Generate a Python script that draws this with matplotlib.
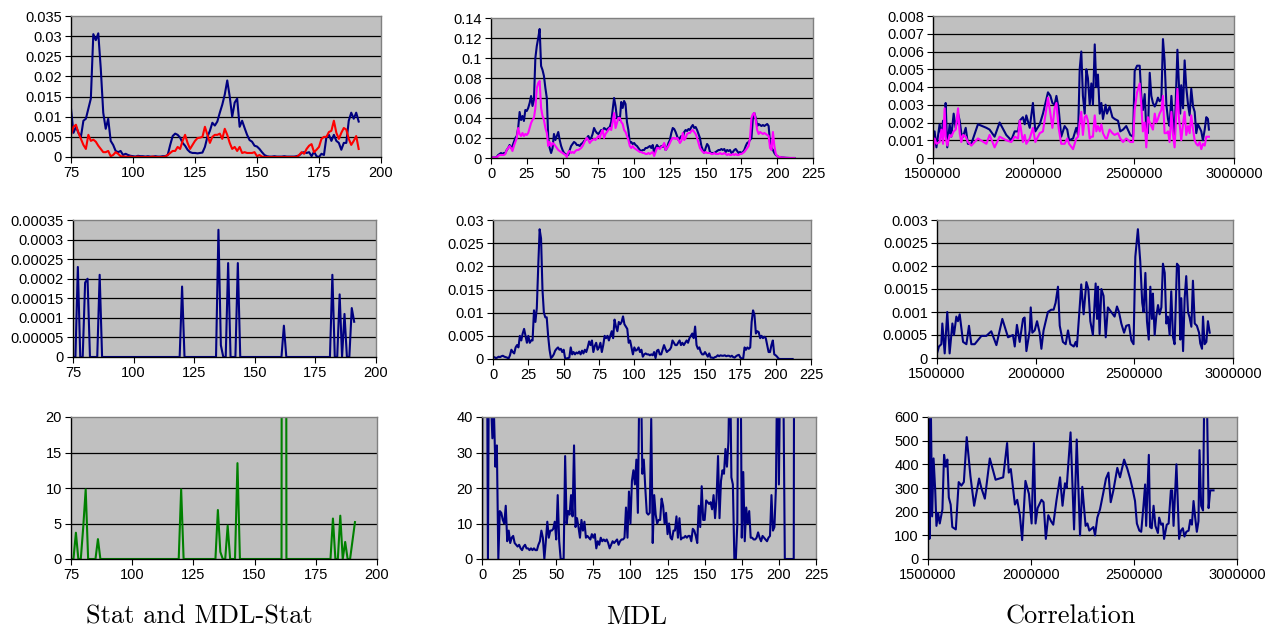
import numpy as np
import matplotlib.pyplot as plt
from matplotlib.ticker import FuncFormatter

# ---------------- data ----------------
# column 1: Stat / MDL-Stat, x = 75..191
stat_start = 75
stat_mdl = [
    0.012, 0.006, 0.0075, 0.006, 0.005, 0.009, 0.0095, 0.012, 0.0145, 0.0305,   # 75
    0.029, 0.0307, 0.022, 0.011, 0.007, 0.0095, 0.004, 0.003, 0.0015, 0.0012,   # 85
    0.0015, 0.0005, 0.0008, 0.0005, 0.0003, 0.0002, 0.0001, 0.0003, 0.0002, 0.0002,  # 95
    0.0001, 0.0002, 0.0001, 0.0001, 0.0002, 0.0001, 0.0001, 0.0002, 0.0002, 0.0005,  # 105
    0.003, 0.0052, 0.0058, 0.0055, 0.0048, 0.0035, 0.0028, 0.0018, 0.0012, 0.001,   # 115
    0.001, 0.0009, 0.001, 0.0011, 0.0025, 0.005, 0.0065, 0.0085, 0.0078, 0.0088,    # 125
    0.011, 0.013, 0.0155, 0.019, 0.015, 0.01, 0.0135, 0.0145, 0.0075, 0.009,        # 135
    0.0072, 0.0055, 0.0042, 0.0038, 0.0028, 0.0026, 0.002, 0.0012, 0.0005, 0.0002,  # 145
    0.0001, 0.0001, 0.0002, 0.0001, 0.0001, 0.0001, 0.0002, 0.0001, 0.0001, 0.0001,  # 155
    0.0001, 0.0002, 0.0004, 0.001, 0.0012, 0.001, 0.0012, 0.0002, 0.0013, 0.0002,   # 165
    0.0, 0.0008, 0.0005, 0.005, 0.0055, 0.004, 0.0055, 0.004, 0.0035, 0.0018,       # 175
    0.0035, 0.0035, 0.009, 0.011, 0.0095, 0.011, 0.0088,                           # 185
]
stat_red = [
    0.0055, 0.0075, 0.008, 0.006, 0.0045, 0.003, 0.002, 0.0055, 0.004, 0.0043,
    0.0038, 0.0028, 0.002, 0.0012, 0.0012, 0.0015, 0.0002, 0.0005, 0.0012, 0.0008,
    0.0002, 0.0001, 0.0001, 0.0, 0.0001, 0.0, 0.0, 0.0001, 0.0, 0.0,
    0.0, 0.0, 0.0, 0.0001, 0.0, 0.0, 0.0, 0.0, 0.0001, 0.0005,
    0.001, 0.0015, 0.0015, 0.0025, 0.002, 0.004, 0.0055, 0.0035, 0.002, 0.003,
    0.004, 0.0047, 0.0048, 0.005, 0.0075, 0.0055, 0.0035, 0.005, 0.0055, 0.0055,
    0.0058, 0.0045, 0.007, 0.0055, 0.0035, 0.002, 0.0025, 0.0015, 0.0025, 0.001,
    0.0012, 0.001, 0.001, 0.001, 0.0012, 0.0002, 0.0005, 0.0001, 0.0, 0.0,
    0.0, 0.0, 0.0, 0.0, 0.0, 0.0, 0.0, 0.0, 0.0, 0.0,
    0.0, 0.0, 0.0005, 0.0012, 0.0008, 0.002, 0.0028, 0.0032, 0.0012, 0.0018,
    0.0025, 0.0045, 0.005, 0.005, 0.0062, 0.0065, 0.009, 0.006, 0.0045, 0.006,
    0.0072, 0.0068, 0.0045, 0.003, 0.004, 0.0052, 0.002,
]
stat_mid = [
    0, 0, 0.00023, 0, 0, 0.00019, 0.0002, 0, 0, 0,
    0, 0.00021, 0, 0, 0, 0, 0, 0, 0, 0,
    0, 0, 0, 0, 0, 0, 0, 0, 0, 0,
    0, 0, 0, 0, 0, 0, 0, 0, 0, 0,
    0, 0, 0, 0, 0, 0.00018, 0, 0, 0, 0,
    0, 0, 0, 0, 0, 0, 0, 0, 0, 0,
    0.000325, 0.00003, 0, 0, 0.00024, 0, 0, 0, 0.00024, 0,
    0, 0, 0, 0, 0, 0, 0, 0, 0, 0,
    0, 0, 0, 0, 0, 0, 0, 0.00008, 0, 0,
    0, 0, 0, 0, 0, 0, 0, 0, 0, 0,
    0, 0, 0, 0, 0, 0, 0, 0.00021, 0, 0,
    0.00016, 0, 0.00011, 0, 0, 0.000125, 0.00009,
]
stat_low = [
    0, 0, 3.7, 0, 0, 4.5, 9.8, 0, 0, 0,
    0, 2.8, 0, 0, 0, 0, 0, 0, 0, 0,
    0, 0, 0, 0, 0, 0, 0, 0, 0, 0,
    0, 0, 0, 0, 0, 0, 0, 0, 0, 0,
    0, 0, 0, 0, 0, 9.8, 0, 0, 0, 0,
    0, 0, 0, 0, 0, 0, 0, 0, 0, 0,
    6.9, 1.0, 0, 0, 4.7, 0, 0, 0, 13.5, 0,
    0, 0, 0, 0, 0, 0, 0, 0, 0, 0,
    0, 0, 0, 0, 0, 0, 0, 400, 0, 0,
    0, 0, 0, 0, 0, 0, 0, 0, 0, 0,
    0, 0, 0, 0, 0, 0, 0, 5.7, 0, 0,
    6.1, 0, 2.4, 0, 0, 2.6, 5.2,
]

# column 2: MDL, x = 0..212
mdl_top = [
    0.0005, 0.0005, 0.0005, 0.0005, 0.001, 0.003, 0.004, 0.005, 0.004, 0.005,   # 0
    0.005, 0.008, 0.010, 0.013, 0.010, 0.012, 0.016, 0.020, 0.022, 0.030,       # 10
    0.046, 0.038, 0.042, 0.037, 0.048, 0.047, 0.050, 0.055, 0.062, 0.052,       # 20
    0.058, 0.100, 0.112, 0.120, 0.129, 0.092, 0.088, 0.082, 0.070, 0.060,       # 30
    0.020, 0.010, 0.005, 0.010, 0.024, 0.018, 0.022, 0.026, 0.018, 0.012,       # 40
    0.008, 0.005, 0.004, 0.003, 0.003, 0.008, 0.012, 0.014, 0.016, 0.015,       # 50
    0.013, 0.013, 0.012, 0.014, 0.015, 0.017, 0.018, 0.020, 0.022, 0.019,       # 60
    0.020, 0.024, 0.030, 0.027, 0.025, 0.024, 0.026, 0.028, 0.027, 0.030,       # 70
    0.029, 0.028, 0.030, 0.031, 0.036, 0.048, 0.060, 0.052, 0.040, 0.041,       # 80
    0.038, 0.056, 0.050, 0.057, 0.054, 0.036, 0.028, 0.015, 0.016, 0.014,       # 90
    0.015, 0.013, 0.012, 0.010, 0.008, 0.007, 0.008, 0.008, 0.010, 0.010,       # 100
    0.011, 0.012, 0.010, 0.013, 0.005, 0.010, 0.013, 0.011, 0.010, 0.012,       # 110
    0.011, 0.014, 0.008, 0.010, 0.015, 0.018, 0.025, 0.030, 0.029, 0.026,       # 120
    0.022, 0.018, 0.020, 0.022, 0.020, 0.026, 0.028, 0.027, 0.029, 0.028,       # 130
    0.031, 0.033, 0.030, 0.031, 0.028, 0.024, 0.020, 0.012, 0.008, 0.005,       # 140
    0.010, 0.014, 0.012, 0.006, 0.005, 0.005, 0.005, 0.006, 0.007, 0.008,       # 150
    0.008, 0.009, 0.008, 0.009, 0.006, 0.008, 0.007, 0.008, 0.005, 0.006,       # 160
    0.008, 0.009, 0.007, 0.005, 0.006, 0.005, 0.006, 0.008, 0.012, 0.015,       # 170
    0.016, 0.018, 0.020, 0.040, 0.045, 0.040, 0.032, 0.034, 0.033, 0.032,       # 180
    0.033, 0.032, 0.033, 0.034, 0.032, 0.015, 0.010, 0.008, 0.005, 0.003,       # 190
    0.002, 0.001, 0.001, 0.0005, 0.0005, 0.0003, 0.0002, 0.0001, 0, 0,          # 200
    0, 0, 0,                                                                    # 210
]
mdl_top2 = [
    0.0005, 0.0005, 0.0005, 0.0005, 0.0005, 0.002, 0.003, 0.003, 0.003, 0.003,
    0.004, 0.008, 0.010, 0.012, 0.010, 0.007, 0.012, 0.016, 0.020, 0.030,
    0.024, 0.022, 0.025, 0.022, 0.024, 0.023, 0.025, 0.030, 0.035, 0.038,
    0.040, 0.050, 0.070, 0.075, 0.077, 0.050, 0.042, 0.038, 0.030, 0.025,
    0.012, 0.016, 0.012, 0.015, 0.014, 0.012, 0.010, 0.008, 0.007, 0.006,
    0.005, 0.004, 0.003, 0.001, 0.006, 0.007, 0.005, 0.006, 0.005, 0.007,
    0.008, 0.008, 0.009, 0.010, 0.012, 0.015, 0.018, 0.020, 0.018, 0.015,
    0.017, 0.018, 0.019, 0.018, 0.020, 0.022, 0.020, 0.025, 0.028, 0.020,
    0.024, 0.026, 0.028, 0.030, 0.028, 0.036, 0.045, 0.030, 0.035, 0.040,
    0.040, 0.036, 0.034, 0.028, 0.026, 0.022, 0.018, 0.012, 0.010, 0.012,
    0.010, 0.009, 0.008, 0.007, 0.006, 0.006, 0.005, 0.005, 0.004, 0.004,
    0.005, 0.004, 0.005, 0.006, 0.002, 0.006, 0.010, 0.010, 0.009, 0.011,
    0.012, 0.015, 0.008, 0.010, 0.012, 0.015, 0.018, 0.020, 0.020, 0.019,
    0.020, 0.018, 0.015, 0.017, 0.025, 0.018, 0.020, 0.024, 0.025, 0.025,
    0.027, 0.028, 0.026, 0.024, 0.020, 0.015, 0.010, 0.008, 0.006, 0.005,
    0.006, 0.005, 0.005, 0.005, 0.004, 0.004, 0.005, 0.004, 0.004, 0.004,
    0.005, 0.004, 0.004, 0.005, 0.004, 0.003, 0.004, 0.003, 0.003, 0.004,
    0.003, 0.004, 0.003, 0.003, 0.004, 0.004, 0.005, 0.006, 0.008, 0.010,
    0.012, 0.020, 0.040, 0.044, 0.045, 0.038, 0.028, 0.024, 0.026, 0.025,
    0.024, 0.025, 0.024, 0.023, 0.022, 0.010, 0.008, 0.026, 0.012, 0.004,
    0.002, 0.001, 0.001, 0.0005, 0.0005, 0.0003, 0.0002, 0.0001, 0, 0,
    0, 0, 0,
]
mdl_mid = [
    0.0003, 0.0004, 0.0002, 0.0003, 0.0005, 0.0004, 0.0006, 0.0007, 0.0005, 0.0004,
    0.0003, 0.0001, 0.0008, 0.002, 0.0015, 0.0012, 0.0025, 0.003, 0.0025, 0.005,
    0.004, 0.0055, 0.0065, 0.005, 0.0035, 0.005, 0.0035, 0.004, 0.004, 0.0105,
    0.008, 0.011, 0.02, 0.028, 0.026, 0.015, 0.01, 0.009, 0.009, 0.005,
    0.002, 0.0002, 0.0005, 0.001, 0.0018, 0.0022, 0.0025, 0.002, 0.0022, 0.0015,
    0.002, 0.0002, 0.0001, 0.0002, 0.0003, 0.0025, 0.001, 0.0015, 0.001, 0.0014,
    0.0012, 0.0016, 0.001, 0.0018, 0.0012, 0.002, 0.0015, 0.0025, 0.0038, 0.003,
    0.004, 0.0015, 0.0028, 0.0035, 0.002, 0.0025, 0.0035, 0.0015, 0.003, 0.005,
    0.0045, 0.005, 0.004, 0.005, 0.006, 0.0045, 0.0085, 0.007, 0.006, 0.008,
    0.0075, 0.008, 0.0092, 0.0075, 0.007, 0.0065, 0.0035, 0.004, 0.0025, 0.001,
    0.0025, 0.0018, 0.002, 0.0025, 0.0015, 0.002, 0.0005, 0.001, 0.0012, 0.001,
    0.001, 0.0008, 0.001, 0.0008, 0.0015, 0.0002, 0.0018, 0.002, 0.001, 0.001,
    0.002, 0.003, 0.0022, 0.0015, 0.0018, 0.002, 0.0025, 0.004, 0.0035, 0.003,
    0.003, 0.0035, 0.004, 0.003, 0.0035, 0.003, 0.0035, 0.004, 0.0035, 0.0045,
    0.005, 0.0055, 0.0045, 0.007, 0.003, 0.0022, 0.0025, 0.0015, 0.001, 0.001,
    0.0015, 0.001, 0.0005, 0.0012, 0.0003, 0.0003, 0.0002, 0.0004, 0.0005, 0.0008,
    0.0006, 0.0008, 0.0007, 0.0007, 0.0008, 0.0006, 0.0007, 0.0007, 0.0005, 0.0007,
    0.0004, 0.0003, 0.0006, 0.0008, 0.0009, 0.0003, 0.0001, 0.0001, 0.0025, 0.002,
    0.0025, 0.0022, 0.0025, 0.008, 0.0105, 0.0095, 0.0055, 0.006, 0.0058, 0.0045,
    0.005, 0.0045, 0.0048, 0.0045, 0.003, 0.0015, 0.0015, 0.003, 0.004, 0.001,
    0.0008, 0.0005, 0.0001, 0, 0, 0, 0, 0, 0, 0,
    0, 0, 0,
]
mdl_low = [
    0, 200, 150, 100, 0, 90, 45, 34, 42, 26,
    32, 0, 13.5, 13, 11, 10, 15, 5, 8, 4.5,
    6, 6.5, 4.5, 4, 3.5, 4, 3, 2.5, 3.5, 4,
    3, 3, 2.5, 3, 2.5, 3, 2.5, 2.5, 4, 5,
    8, 6, 0, 5, 10.5, 6, 8, 8, 8.5, 10.5,
    5.5, 18, 5, 0, 0, 0, 29, 10, 13.5, 12.5,
    18, 12, 32, 9, 11.5, 9, 6, 11, 8, 10.5,
    6, 6.5, 6, 5.5, 7, 6, 7, 3, 5, 4,
    6, 5, 5.5, 5, 5.5, 4.5, 3, 4, 5, 4.5,
    5, 5.5, 4, 5, 5.5, 5.5, 6, 14.5, 6, 19,
    10, 22, 25, 21, 28, 13, 50, 55, 24, 28,
    20, 13, 12.5, 13, 39.5, 4.5, 18, 12.5, 10, 11,
    11, 17, 15, 10, 13, 7, 10, 6, 5.5, 8,
    8, 12, 6, 11.5, 5.5, 6, 6, 6.5, 6, 6.5,
    6.5, 5, 8.5, 8, 6.5, 4.5, 15, 9, 20.5, 11,
    11, 16.5, 16, 15.5, 16, 14, 18, 11.5, 17, 29,
    11.5, 22, 25, 24, 31, 26, 33, 60, 23, 21,
    0, 0, 10, 90, 70, 6, 24.5, 5, 14.5, 10,
    13.5, 6, 6, 5.5, 5.5, 6, 7.5, 6, 5, 6.5,
    6, 5.5, 5, 6, 6.5, 18, 8, 9, 20, 60,
    21, 60, 80, 50, 0, 0, 0, 0, 0, 0,
    0, 250, 200,
]

# column 3: Correlation, x in thousands
corr_top_x = [
    1500, 1508, 1517, 1533, 1542, 1550, 1558, 1563, 1571, 1583,
    1591, 1603, 1613, 1625, 1633, 1641, 1650, 1663, 1674, 1691,
    1724, 1766, 1782, 1807, 1832, 1865, 1890, 1907, 1924, 1932,
    1948, 1957, 1965, 1982, 1998, 2010, 2032, 2048, 2073, 2085,
    2095, 2106, 2115, 2126, 2139, 2156, 2169, 2178, 2198, 2214,
    2223, 2231, 2239, 2247, 2256, 2264, 2272, 2281, 2289, 2297,
    2306, 2314, 2322, 2331, 2339, 2347, 2360, 2367, 2380, 2394,
    2405, 2422, 2433, 2447, 2463, 2483, 2497, 2505, 2517, 2530,
    2538, 2546, 2555, 2563, 2571, 2580, 2588, 2596, 2605, 2613,
    2621, 2629, 2638, 2646, 2654, 2663, 2671, 2679, 2688, 2696,
    2704, 2718, 2726, 2732, 2737, 2746, 2754, 2762, 2771, 2779,
    2787, 2796, 2804, 2812, 2820, 2829, 2837, 2845, 2854, 2862,
    2870, 2875,
]
corr_top = [
    0.0010, 0.0015, 0.0006, 0.0019, 0.0012, 0.0021, 0.0015, 0.0031, 0.0006, 0.0019,
    0.0012, 0.0025, 0.0017, 0.0025, 0.0021, 0.0014, 0.0012, 0.0017, 0.0008, 0.0008,
    0.0019, 0.0017, 0.0016, 0.0012, 0.0020, 0.0013, 0.0010, 0.0015, 0.0015, 0.0021,
    0.0023, 0.0019, 0.0024, 0.0017, 0.0031, 0.0015, 0.0019, 0.0025, 0.0037, 0.0035,
    0.0031, 0.0030, 0.0035, 0.0028, 0.0012, 0.0018, 0.0016, 0.0010, 0.0011, 0.0017,
    0.0013, 0.0050, 0.0060, 0.0035, 0.0025, 0.0050, 0.0045, 0.0030, 0.0042, 0.0030,
    0.0064, 0.0040, 0.0047, 0.0025, 0.0031, 0.0022, 0.0030, 0.0025, 0.0029, 0.0023,
    0.0022, 0.0021, 0.0015, 0.0016, 0.0018, 0.0013, 0.0012, 0.0049, 0.0052, 0.0052,
    0.0035, 0.0027, 0.0036, 0.0016, 0.0014, 0.0048, 0.0035, 0.0031, 0.0029, 0.0031,
    0.0034, 0.0032, 0.0033, 0.0067, 0.0055, 0.0030, 0.0022, 0.0018, 0.0035, 0.0021,
    0.0012, 0.0061, 0.0040, 0.0025, 0.0041, 0.0028, 0.0055, 0.0040, 0.0030, 0.0024,
    0.0039, 0.0029, 0.0026, 0.0014, 0.0019, 0.0017, 0.0015, 0.0010, 0.0016, 0.0023,
    0.0022, 0.0016,
]
corr_top2 = [
    0.0004, 0.0011, 0.0008, 0.0009, 0.0016, 0.0008, 0.0028, 0.0012, 0.0007, 0.0013,
    0.0012, 0.0015, 0.0016, 0.0028, 0.0014, 0.0009, 0.0013, 0.0012, 0.0009, 0.0007,
    0.0011, 0.0008, 0.0013, 0.0006, 0.0012, 0.0010, 0.0009, 0.0012, 0.0011, 0.0021,
    0.0009, 0.0013, 0.0008, 0.0011, 0.0017, 0.0009, 0.0014, 0.0015, 0.0034, 0.0025,
    0.0017, 0.0028, 0.0031, 0.0017, 0.0008, 0.0008, 0.0011, 0.0008, 0.0005, 0.0011,
    0.0012, 0.0020, 0.0026, 0.0013, 0.0023, 0.0024, 0.0021, 0.0011, 0.0012, 0.0012,
    0.0024, 0.0015, 0.0018, 0.0015, 0.0019, 0.0014, 0.0011, 0.0011, 0.0016, 0.0014,
    0.0013, 0.0014, 0.0011, 0.0009, 0.0011, 0.0009, 0.0009, 0.0027, 0.0037, 0.0042,
    0.0030, 0.0015, 0.0020, 0.0006, 0.0023, 0.0020, 0.0018, 0.0016, 0.0025, 0.0020,
    0.0022, 0.0025, 0.0027, 0.0035, 0.0014, 0.0014, 0.0015, 0.0009, 0.0026, 0.0013,
    0.0006, 0.0039, 0.0022, 0.0016, 0.0010, 0.0019, 0.0026, 0.0013, 0.0018, 0.0014,
    0.0024, 0.0016, 0.0010, 0.0008, 0.0007, 0.0009, 0.0005, 0.0008, 0.0007, 0.0012,
    0.0012, 0.0012,
]
corr_mid_x = [
    1500, 1510, 1522, 1527, 1539, 1552, 1564, 1578, 1586, 1598,
    1606, 1615, 1632, 1649, 1662, 1674, 1691, 1725, 1750, 1775,
    1801, 1831, 1860, 1885, 1894, 1905, 1919, 1936, 1944, 1953,
    1970, 1975, 1983, 1995, 2007, 2020, 2029, 2040, 2062, 2079,
    2091, 2101, 2113, 2122, 2138, 2152, 2164, 2176, 2193, 2203,
    2209, 2223, 2231, 2243, 2257, 2267, 2277, 2290, 2304, 2311,
    2316, 2324, 2333, 2344, 2355, 2366, 2383, 2400, 2412, 2422,
    2434, 2448, 2459, 2473, 2485, 2496, 2505, 2518, 2530, 2540,
    2547, 2556, 2564, 2573, 2581, 2589, 2594, 2603, 2611, 2620,
    2628, 2637, 2645, 2654, 2662, 2670, 2679, 2687, 2696, 2704,
    2716, 2725, 2733, 2738, 2747, 2755, 2763, 2772, 2780, 2789,
    2797, 2806, 2817, 2828, 2834, 2843, 2848, 2856, 2865, 2873,
    2882,
]
corr_mid = [
    0.0001, 0.00025, 0.0003, 0.00075, 0.0001, 0.001, 0.0001, 0.00075, 0.0005, 0.0009,
    0.0008, 0.00095, 0.00035, 0.0003, 0.0007, 0.0003, 0.0003, 0.00048, 0.00048, 0.00058,
    0.00028, 0.00085, 0.00045, 0.0005, 0.00025, 0.00072, 0.00035, 0.00085, 0.00088, 0.00015,
    0.0006, 0.0011, 0.00055, 0.0006, 0.0008, 0.00055, 0.0002, 0.0006, 0.001, 0.00105,
    0.00105, 0.0012, 0.00155, 0.0007, 0.00035, 0.0003, 0.0006, 0.0003, 0.00025, 0.00035,
    0.00025, 0.0011, 0.0016, 0.00095, 0.00165, 0.0015, 0.0008, 0.0005, 0.00162, 0.00085,
    0.00155, 0.00052, 0.0015, 0.00135, 0.00045, 0.0011, 0.001, 0.0009, 0.00112, 0.001,
    0.00075, 0.00055, 0.0007, 0.00072, 0.00038, 0.0003, 0.0022, 0.0028, 0.0021, 0.0012,
    0.001, 0.00185, 0.0008, 0.0004, 0.00155, 0.00085, 0.0014, 0.0005, 0.0009, 0.00115,
    0.00095, 0.0011, 0.00205, 0.00185, 0.00075, 0.0009, 0.0005, 0.00145, 0.00045, 0.0003,
    0.00205, 0.002, 0.0004, 0.0013, 0.00015, 0.0013, 0.00178, 0.001, 0.00088, 0.00068,
    0.00168, 0.00075, 0.0007, 0.00055, 0.00032, 0.0002, 0.0009, 0.0003, 0.00035, 0.0008,
    0.00055,
]
corr_low_x = [
    1500, 1503, 1507, 1513, 1520, 1527, 1535, 1541, 1549, 1557,
    1570, 1578, 1586, 1594, 1601, 1610, 1618, 1635, 1649, 1662,
    1674, 1688, 1706, 1724, 1748, 1759, 1776, 1800, 1828, 1865,
    1884, 1892, 1902, 1922, 1933, 1946, 1957, 1973, 1990, 2003,
    2014, 2022, 2032, 2051, 2061, 2072, 2084, 2097, 2108, 2124,
    2141, 2153, 2165, 2173, 2192, 2209, 2222, 2238, 2249, 2265,
    2274, 2283, 2303, 2311, 2322, 2335, 2351, 2364, 2376, 2387,
    2400, 2419, 2432, 2452, 2468, 2481, 2492, 2505, 2514, 2526,
    2535, 2546, 2554, 2559, 2572, 2578, 2586, 2595, 2604, 2616,
    2622, 2632, 2640, 2646, 2659, 2668, 2679, 2685, 2692, 2706,
    2719, 2728, 2737, 2745, 2754, 2765, 2773, 2781, 2789, 2797,
    2805, 2813, 2818, 2826, 2835, 2841, 2849, 2855, 2862, 2870,
    2886,
]
corr_low = [
    85, 700, 85, 700, 180, 425, 290, 140, 195, 150,
    210, 440, 390, 420, 260, 230, 135, 125, 325, 310,
    325, 515, 350, 225, 340, 300, 255, 425, 335, 345,
    490, 365, 380, 230, 250, 185, 80, 330, 275, 150,
    490, 150, 215, 250, 240, 85, 185, 160, 145, 250,
    345, 225, 320, 300, 535, 125, 505, 100, 305, 140,
    150, 120, 135, 100, 175, 210, 280, 340, 365, 240,
    290, 385, 345, 420, 380, 340, 300, 245, 150, 120,
    115, 225, 315, 140, 440, 135, 130, 225, 140, 110,
    175, 145, 150, 85, 145, 150, 290, 290, 140, 400,
    85, 120, 130, 95, 115, 120, 165, 145, 245, 175,
    115, 160, 460, 225, 205, 700, 650, 620, 215, 290,
    290,
]

titles = ["Stat and MDL-Stat", "MDL", "Correlation"]

NAVY = '#000080'
W, H = 1272, 629


def fmt(v, pos):
    s = f"{v:.6f}".rstrip('0').rstrip('.')
    return '0' if s in ('-0', '') else s


def panel(fig, rect, xlim, xstep, ylim, ystep):
    l, t, r, b = rect
    ax = fig.add_axes([l / W, 1 - b / H, (r - l) / W, (b - t) / H])
    ax.set_facecolor('#c0c0c0')
    ax.set_xlim(*xlim)
    ax.set_ylim(*ylim)
    yt = np.arange(ylim[0], ylim[1] + ystep / 2, ystep)
    xt = np.arange(xlim[0], xlim[1] + xstep / 2, xstep)
    ax.set_yticks(yt)
    ax.set_xticks(xt)
    for y in yt[1:-1]:
        ax.axhline(y, color='black', lw=0.9, zorder=1)
    ax.xaxis.set_major_formatter(FuncFormatter(fmt))
    ax.yaxis.set_major_formatter(FuncFormatter(fmt))
    ax.tick_params(direction='out', length=4.5, width=0.8, labelsize=10.5, pad=2)
    for s in ('left', 'bottom'):
        ax.spines[s].set_color('black')
        ax.spines[s].set_linewidth(1.0)
    for s in ('top', 'right'):
        ax.spines[s].set_color('#808080')
        ax.spines[s].set_linewidth(1.0)
    return ax


def main():
    plt.rcParams['font.family'] = 'Liberation Sans'
    fig = plt.figure(figsize=(12.72, 6.29), dpi=100)

    lw = 1.5
    xs = stat_start + np.arange(len(stat_mdl))
    xm = np.arange(len(mdl_top))
    k = 1000

    # row 1
    ax = panel(fig, (71, 16, 381, 157), (75, 200), 25, (0, 0.035), 0.005)
    ax.plot(xs, stat_mdl, color=NAVY, lw=lw)
    ax.plot(xs, stat_red, color='red', lw=lw)

    ax = panel(fig, (491, 18, 813, 158), (0, 225), 25, (0, 0.14), 0.02)
    ax.plot(xm, mdl_top, color=NAVY, lw=lw)
    ax.plot(xm, mdl_top2, color='magenta', lw=lw)

    ax = panel(fig, (933, 16, 1234, 158), (1500000, 3000000), 500000, (0, 0.008), 0.001)
    ax.plot(np.array(corr_top_x) * k, corr_top, color=NAVY, lw=lw)
    ax.plot(np.array(corr_top_x) * k, corr_top2, color='magenta', lw=lw)

    # row 2
    ax = panel(fig, (73, 220, 376, 357), (75, 200), 25, (0, 0.00035), 0.00005)
    ax.plot(xs, stat_mid, color=NAVY, lw=lw)

    ax = panel(fig, (493, 220, 811, 359), (0, 225), 25, (0, 0.03), 0.005)
    ax.plot(xm, mdl_mid, color=NAVY, lw=lw)

    ax = panel(fig, (937, 220, 1233, 358), (1500000, 3000000), 500000, (0, 0.003), 0.0005)
    ax.plot(np.array(corr_mid_x) * k, corr_mid, color=NAVY, lw=lw)

    # row 3
    ax = panel(fig, (71, 417, 377, 559), (75, 200), 25, (0, 20), 5)
    ax.plot(xs, stat_low, color='green', lw=lw)

    ax = panel(fig, (482, 417, 816, 559), (0, 225), 25, (0, 40), 10)
    ax.plot(xm, mdl_low, color=NAVY, lw=lw)

    ax = panel(fig, (928, 417, 1237, 559), (1500000, 3000000), 500000, (0, 600), 100)
    ax.plot(np.array(corr_low_x) * k, corr_low, color=NAVY, lw=lw)

    # column captions
    for cx, txt in zip((199, 637, 1071), titles):
        fig.text(cx / W, 1 - 617 / H, txt, ha='center', va='center',
                 fontfamily='cmr10', fontsize=19)

    fig.savefig('out.png', dpi=100, facecolor='white')

#end main


if __name__ == '__main__':
    main()
